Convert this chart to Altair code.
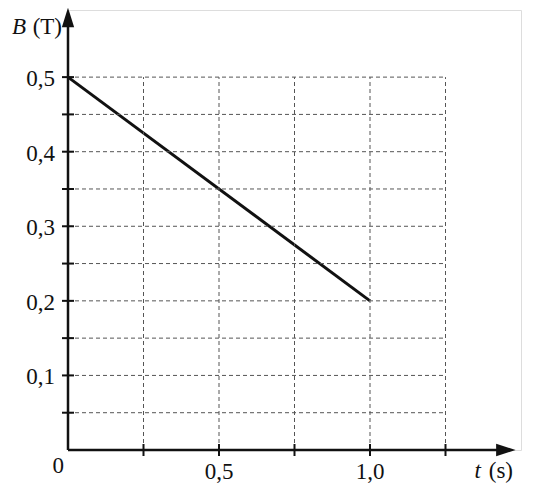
import altair as alt
import pandas as pd

# --- data ---
t_line = [0.0, 1.0]
B_line = [0.5, 0.2]

grid_B = [0.05, 0.10, 0.15, 0.20, 0.25, 0.30, 0.35, 0.40, 0.45, 0.50]
grid_t = [0.25, 0.50, 0.75, 1.00, 1.25]
grid_t_max = 1.25
grid_B_max = 0.5

y_label_values = [0.1, 0.2, 0.3, 0.4, 0.5]
y_label_text = ["0,1", "0,2", "0,3", "0,4", "0,5"]
x_label_values = [0.5, 1.0]
x_label_text = ["0,5", "1,0"]

t_domain = [0, 1.5]
B_domain = [0, 0.59]
t_axis_end = 1.44
B_axis_end = 0.57
t_arrow = 1.45
B_arrow = 0.58

FONT = "Liberation Serif"
FS = 23
W, H = 453, 440

xs = alt.Scale(domain=t_domain, nice=False, zero=False)
ys = alt.Scale(domain=B_domain, nice=False, zero=False)


def XF(field):
    return alt.X(field, type="quantitative", scale=xs, axis=None)


def YF(field):
    return alt.Y(field, type="quantitative", scale=ys, axis=None)


def XD(v):
    return alt.X(datum=v, type="quantitative", scale=xs, axis=None)


def YD(v):
    return alt.Y(datum=v, type="quantitative", scale=ys, axis=None)


line_df = pd.DataFrame({"t": t_line, "B": B_line})
gB_df = pd.DataFrame({"B": grid_B})
gt_df = pd.DataFrame({"t": grid_t})
ylab_df = pd.DataFrame({"B": y_label_values, "label": y_label_text})
xlab_df = pd.DataFrame({"t": x_label_values, "label": x_label_text})
one = pd.DataFrame({"a": [0]})

line = alt.Chart(line_df).mark_line(color="#111", strokeWidth=3).encode(
    x=XF("t"), y=YF("B"),
)

hgrid = alt.Chart(gB_df).mark_rule(color="#555", strokeWidth=1, strokeDash=[4, 3]).encode(
    y=YF("B"), x=XD(0), x2=alt.X2(datum=grid_t_max),
)
vgrid = alt.Chart(gt_df).mark_rule(color="#555", strokeWidth=1, strokeDash=[4, 3]).encode(
    x=XF("t"), y=YD(0), y2=alt.Y2(datum=grid_B_max),
)

yticks = alt.Chart(gB_df).mark_rule(color="#111", strokeWidth=2).encode(
    y=YF("B"), x=alt.value(-6), x2=alt.value(6),
)
xticks = alt.Chart(gt_df).mark_rule(color="#111", strokeWidth=2).encode(
    x=XF("t"), y=alt.value(H - 6), y2=alt.value(H + 6),
)

ylabels = alt.Chart(ylab_df).mark_text(
    font=FONT, fontSize=FS, align="right", baseline="middle", dx=-13, dy=2, color="#111"
).encode(y=YF("B"), x=XD(0), text="label:N")
xlabels = alt.Chart(xlab_df).mark_text(
    font=FONT, fontSize=FS, align="center", baseline="middle", dy=22, color="#111"
).encode(x=XF("t"), y=YD(0), text="label:N")

xaxis = alt.Chart(one).mark_rule(color="#111", strokeWidth=2.5).encode(
    x=XD(0), x2=alt.X2(datum=t_axis_end), y=YD(0),
)
yaxis = alt.Chart(one).mark_rule(color="#111", strokeWidth=2.5).encode(
    x=XD(0), y=YD(0), y2=alt.Y2(datum=B_axis_end),
)

up_arrow = alt.Chart(one).mark_point(
    shape="M0,-1L0.63,1L-0.63,1Z", filled=True, size=380, color="#111", opacity=1
).encode(x=XD(0), y=YD(B_arrow))
right_arrow = alt.Chart(one).mark_point(
    shape="M1,0L-1,0.63L-1,-0.63Z", filled=True, size=380, color="#111", opacity=1
).encode(x=XD(t_arrow), y=YD(0))


def txt(s, tx, by, dx, dy, italic=False, align="right"):
    return alt.Chart(one).mark_text(
        text=s, font=FONT, fontSize=FS, fontStyle="italic" if italic else "normal",
        align=align, baseline="middle", dx=dx, dy=dy, color="#111"
    ).encode(x=XD(tx), y=YD(by))


t_B = txt("B", 0, B_domain[1], -42, 17, italic=True)
t_T = txt("(T)", 0, B_domain[1], -6, 17)
t_t = txt("t", t_domain[1], 0, -40, 21, italic=True)
t_s = txt("(s)", t_domain[1], 0, -8, 21)
t_0 = txt("0", 0, 0, -4, 16)

chart = alt.layer(
    line, hgrid, vgrid, yticks, xticks, xaxis, yaxis, up_arrow, right_arrow,
    ylabels, xlabels, t_B, t_T, t_t, t_s, t_0,
).properties(
    width=W, height=H,
    autosize=alt.AutoSizeParams(type="none"),
    padding={"left": 60, "top": 2, "right": 8, "bottom": 39},
).configure_view(stroke=None).configure(background="white")

chart.save("out.html", embed_options={"renderer": "svg", "actions": False})
